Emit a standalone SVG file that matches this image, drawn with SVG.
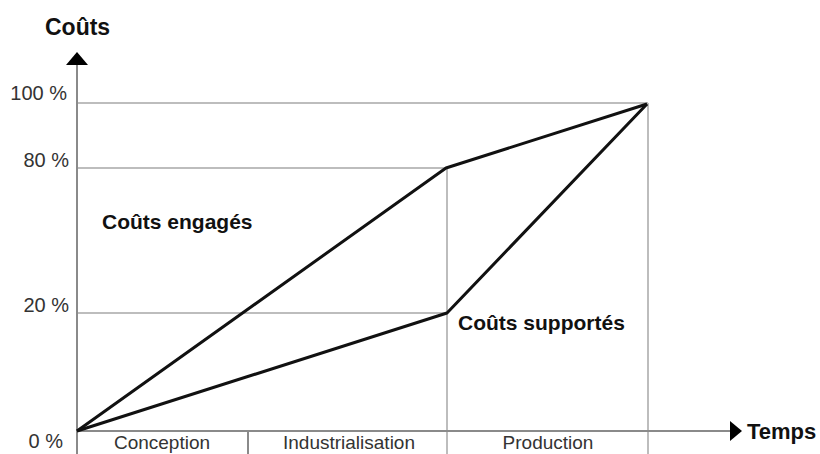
<svg xmlns="http://www.w3.org/2000/svg" width="820" height="454" viewBox="0 0 820 454">
<style>
.grid{stroke:#bdbdbd;stroke-width:2;fill:none}
.axis{stroke:#8a8a8a;stroke-width:2;fill:none}
.curve{stroke:#111;stroke-width:3;fill:none;stroke-linejoin:round}
.lbl{font-family:"Liberation Sans",Arial,sans-serif;font-size:20px;fill:#333}
.phase{font-family:"Liberation Sans",Arial,sans-serif;font-size:19px;fill:#333;text-anchor:middle}
.bold{font-family:"Liberation Sans",Arial,sans-serif;font-size:21px;font-weight:bold;fill:#111}
</style>
<rect width="820" height="454" fill="#fff"/>
<g id="grid">
<line class="grid" x1="77" y1="103" x2="648" y2="103"/>
<line class="grid" x1="77" y1="168" x2="447" y2="168"/>
<line class="grid" x1="77" y1="313" x2="447" y2="313"/>
<line class="grid" x1="447" y1="168" x2="447" y2="454"/>
<line class="grid" x1="648" y1="103" x2="648" y2="454"/>
<line class="axis" x1="248" y1="431" x2="248" y2="454"/>
</g>
<g id="axes">
<line class="axis" x1="77" y1="62" x2="77" y2="454"/>
<polygon points="77,52 66,65 88,65" fill="#000"/>
<line class="axis" x1="77" y1="431" x2="733" y2="431"/>
<polygon points="742,431 730,421 730,441" fill="#000"/>
</g>
<g id="connectors">
<polyline id="engages" class="curve" points="77,431 446,168 647,104"/>
<polyline id="supportes" class="curve" points="77,431 447,313 647,104"/>
</g>
<g id="labels">
<text class="bold" x="45" y="35" style="font-size:23px">Coûts</text>
<text class="bold" x="747" y="439" style="font-size:22px">Temps</text>
<text class="lbl" x="67" y="100" text-anchor="end">100 %</text>
<text class="lbl" x="69" y="167" text-anchor="end">80 %</text>
<text class="lbl" x="69" y="312" text-anchor="end">20 %</text>
<text class="lbl" x="63" y="448" text-anchor="end">0 %</text>
<text class="bold" x="102" y="229">Coûts engagés</text>
<text class="bold" x="458" y="330">Coûts supportés</text>
<text class="phase" x="162" y="449">Conception</text>
<text class="phase" x="349" y="449">Industrialisation</text>
<text class="phase" x="548" y="449">Production</text>
</g>
</svg>
